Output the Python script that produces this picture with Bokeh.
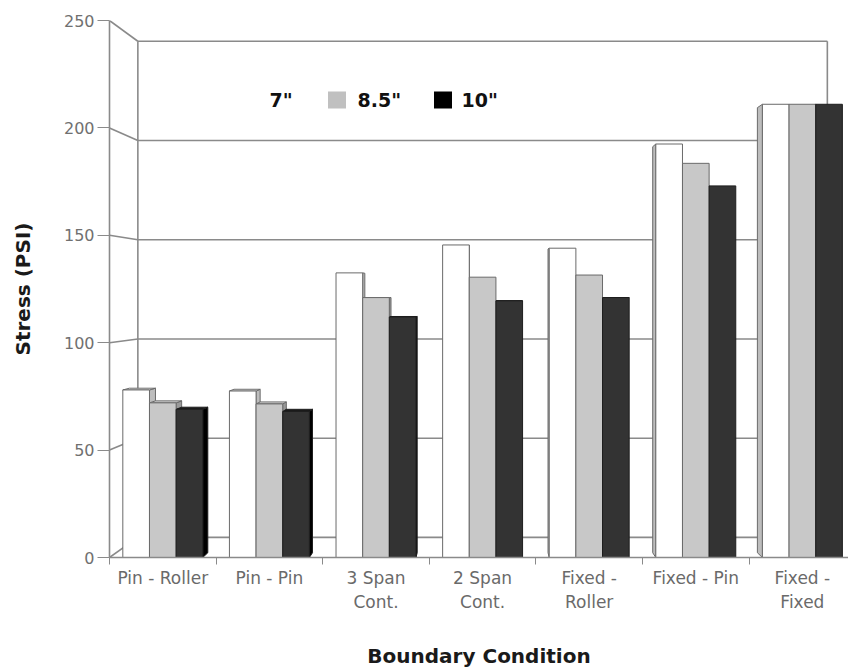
from bokeh.plotting import figure
from bokeh.models import Range1d, FixedTicker, CustomJSTickFormatter
from bokeh.core.properties import value
from bokeh.embed import file_html
from bokeh.resources import INLINE

# ---------------- data ----------------
categories = ["Pin - Roller", "Pin - Pin", "3 Span\nCont.", "2 Span\nCont.",
              "Fixed -\nRoller", "Fixed - Pin", "Fixed -\nFixed"]
series_names = ['7"', '8.5"', '10"']
stress_7 = [78, 77.5, 132.5, 145.5, 144, 192.5, 211]
stress_85 = [72, 71.5, 121, 130.5, 131.5, 183.5, 211]
stress_10 = [69, 68, 112, 119.5, 121, 173, 211]
y_ticks = [0, 50, 100, 150, 200, 250]

# ---------------- layout / style ----------------
W, H = 848, 671
LEFT, TOP, BOTTOM = 109, 20, 114
CAT_PX = 106.6
X_END = (W - LEFT) / CAT_PX
Y_MAX = 250
FRAME_H = H - TOP - BOTTOM

FONT = "DejaVu Sans"
GRID = "#8a8a8a"

front_fill = ["#ffffff", "#c8c8c8", "#333333"]
front_line = ["#6a6a6a", "#6a6a6a", "#1e1e1e"]
side_fill = ["#bdbdbd", "#9a9a9a", "#000000"]
top_fill = ["#ffffff", "#dadada", "#1a1a1a"]
offsets = [-0.25, 0.0, 0.25]
BAR_W = 0.25

# perspective (vanishing point in data coords)
VX, VY = len(categories) / 2, 123.0
S_WALL, S_BAR = 0.924, 0.982


def proj(x, y, s):
    return VX + (x - VX) * s, VY + (y - VY) * s


def px2x(px):
    return (px - LEFT) / CAT_PX


def py2y(py):
    return (TOP + FRAME_H - py) * Y_MAX / FRAME_H


p = figure(width=W, height=H, x_range=Range1d(0, X_END), y_range=Range1d(0, Y_MAX),
           output_backend="svg", toolbar_location=None,
           min_border_left=LEFT, min_border_right=0, min_border_top=TOP,
           min_border_bottom=BOTTOM)
p.outline_line_color = None
p.grid.visible = False
p.background_fill_color = "white"

# ---------------- back walls / gridlines ----------------
n = len(categories)
x0s, y0s, x1s, y1s = [], [], [], []
for v in y_ticks:
    bl = proj(0, v, S_WALL)
    br = proj(n, v, S_WALL)
    x0s += [bl[0], 0]
    y0s += [bl[1], v]
    x1s += [br[0], bl[0]]
    y1s += [br[1], bl[1]]
for xe in (0, n):
    b0 = proj(xe, 0, S_WALL)
    b1 = proj(xe, Y_MAX, S_WALL)
    x0s.append(b0[0]); y0s.append(b0[1]); x1s.append(b1[0]); y1s.append(b1[1])
p.segment(x0=x0s, y0=y0s, x1=x1s, y1=y1s, line_color=GRID, line_width=1.6)

# ---------------- 3D faces ----------------
all_series = [stress_7, stress_85, stress_10]
for si, vals in enumerate(all_series):
    side_xs, side_ys, top_xs, top_ys = [], [], [], []
    for ci, v in enumerate(vals):
        xc = ci + 0.5 + offsets[si]
        xl, xr = xc - BAR_W / 2, xc + BAR_W / 2
        if xc < VX - 1e-6:
            ex = xr
        elif xc > VX + 1e-6:
            ex = xl
        else:
            ex = None
        if ex is not None:
            a = proj(ex, v, S_BAR)
            b = proj(ex, 0, S_BAR)
            side_xs.append([ex, ex, a[0], b[0]])
            side_ys.append([0, v, a[1], b[1]])
        if v < VY:
            a = proj(xr, v, S_BAR)
            b = proj(xl, v, S_BAR)
            top_xs.append([xl, xr, a[0], b[0]])
            top_ys.append([v, v, a[1], b[1]])
    if side_xs:
        p.patches(side_xs, side_ys, fill_color=side_fill[si], line_color=front_line[si], line_width=1)
    if top_xs:
        p.patches(top_xs, top_ys, fill_color=top_fill[si], line_color=front_line[si], line_width=1)

# ---------------- bar fronts ----------------
for si, vals in enumerate(all_series):
    xs = [ci + 0.5 + offsets[si] for ci in range(n)]
    p.vbar(x=xs, top=vals, bottom=0, width=BAR_W, fill_color=front_fill[si],
           line_color=front_line[si], line_width=1)

# ---------------- legend (manual) ----------------
LEG_Y = py2y(99.5)
sw_x = [px2x(254), px2x(336.5), px2x(442.5)]
sw_fill = ["#ffffff", "#c0c0c0", "#000000"]
p.rect(x=sw_x, y=[LEG_Y] * 3, width=18, height=17, width_units="screen",
       height_units="screen", fill_color=sw_fill, line_color=None)
p.text(x=[px2x(269), px2x(357), px2x(461)], y=[LEG_Y] * 3, text=series_names,
       text_font=value(FONT), text_font_style="bold", text_font_size="19px",
       text_baseline="middle", text_align="left", text_color="#111111")

# ---------------- axes ----------------
ya = p.yaxis[0]
ya.ticker = FixedTicker(ticks=y_ticks)
ya.major_label_text_font = FONT
ya.major_label_text_font_size = "16px"
ya.major_label_text_color = "#707070"
ya.major_tick_out = 12
ya.major_tick_in = 0
ya.minor_tick_line_color = None
ya.major_tick_line_color = GRID
ya.axis_line_color = GRID
ya.axis_line_width = 1.6
ya.major_label_standoff = 3
ya.axis_label = "Stress (PSI)"
ya.axis_label_text_font = FONT
ya.axis_label_text_font_style = "bold"
ya.axis_label_text_font_size = "20px"
ya.axis_label_text_color = "#1a1a1a"
ya.axis_label_standoff = 26

xa = p.xaxis[0]
xa.ticker = FixedTicker(ticks=[i + 0.5 for i in range(n)], minor_ticks=list(range(n + 1)))
xa.formatter = CustomJSTickFormatter(args=dict(labels=categories),
                                     code="return labels[Math.floor(tick)];")
xa.major_tick_line_color = None
xa.minor_tick_out = 7
xa.minor_tick_in = 0
xa.minor_tick_line_color = GRID
xa.axis_line_color = GRID
xa.axis_line_width = 1.6
xa.major_label_text_font = FONT
xa.major_label_text_font_size = "17px"
xa.major_label_text_color = "#6a6a6a"
xa.major_label_standoff = 3
xa.axis_label = "Boundary Condition"
xa.axis_label_text_font = FONT
xa.axis_label_text_font_style = "bold"
xa.axis_label_text_font_size = "20px"
xa.axis_label_text_color = "#1a1a1a"
xa.axis_label_standoff = 29

open("out.html", "w").write(file_html(p, INLINE))
